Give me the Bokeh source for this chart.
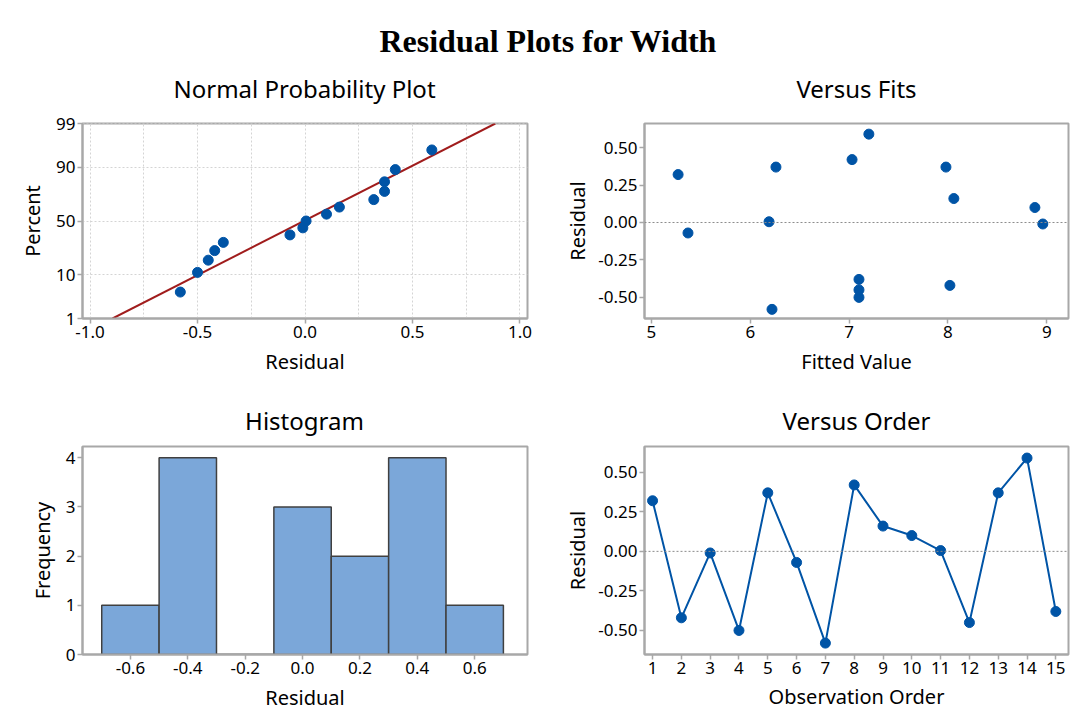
from statistics import NormalDist
import numpy as np
from bokeh.plotting import figure
from bokeh.layouts import column, row
from bokeh.models import Range1d, FixedTicker, PrintfTickFormatter, Span
from bokeh.core.properties import value
from bokeh.embed import file_html
from bokeh.resources import INLINE

# ---------------- data ----------------
order = list(range(1, 16))
residuals = [0.32, -0.42, -0.01, -0.50, 0.37, -0.07, -0.58, 0.42, 0.16, 0.10,
             0.005, -0.45, 0.37, 0.59, -0.38]
fitted = [5.27, 8.02, 8.96, 7.10, 6.26, 5.37, 6.22, 7.03, 8.06, 8.88,
          6.19, 7.10, 7.98, 7.20, 7.10]
npp_percent = [4.5, 11.0, 17.5, 24.0, 30.5, 37.0, 43.5, 50.0, 56.5, 63.0,
               69.5, 76.0, 82.5, 89.0, 95.5]
npp_ticks = [1, 10, 50, 90, 99]
hist_left = [-0.7, -0.5, -0.3, -0.1, 0.1, 0.3, 0.5]
hist_right = [-0.5, -0.3, -0.1, 0.1, 0.3, 0.5, 0.7]
hist_counts = [1, 4, 0, 3, 2, 4, 1]

main_title = "Residual Plots for Width"
top_titles = ["Normal Probability Plot", "Versus Fits"]
bottom_titles = ["Histogram", "Versus Order"]

BLUE = "#0054a6"
BAR = "#7ba7d9"
RED = "#a01c1c"
FRAME = "#a8a8a8"
SANS = "Noto Sans"
nd = NormalDist()


def strip(height):
    s = figure(width=1077, height=height, x_range=Range1d(0, 1077), y_range=Range1d(0, height),
               output_backend="svg", toolbar_location=None, min_border=0)
    s.axis.visible = False
    s.grid.visible = False
    s.outline_line_color = None
    return s


def style(p):
    p.outline_line_color = FRAME
    p.outline_line_width = 2
    p.background_fill_color = "white"
    p.border_fill_color = "white"
    for ax in (p.xaxis[0], p.yaxis[0]):
        ax.axis_line_color = FRAME
        ax.axis_line_width = 2
        ax.major_tick_line_color = FRAME
        ax.major_tick_line_width = 1.5
        ax.major_tick_out = 5
        ax.major_tick_in = 0
        ax.minor_tick_line_color = None
        ax.major_label_text_font = SANS
        ax.major_label_text_font_size = "17px"
        ax.major_label_text_color = "black"
        ax.major_label_standoff = 2
        ax.axis_label_text_font = SANS
        ax.axis_label_text_font_size = "20px"
        ax.axis_label_text_font_style = "normal"
        ax.axis_label_text_color = "black"


# ---------------- title strip (main title + top subplot titles) ----------------
pt = strip(110)
pt.text(x=[548], y=[70], text=[main_title],
        text_font=value("Liberation Serif"), text_font_style="bold",
        text_font_size="32px", text_align="center", text_baseline="middle",
        text_color="black")
pt.text(x=[304, 856], y=[22, 22], text=top_titles,
        text_font=value(SANS), text_font_size="24px", text_align="center",
        text_baseline="middle", text_color="black")

pb = strip(50)
pb.text(x=[304, 856], y=[20, 20], text=bottom_titles,
        text_font=value(SANS), text_font_size="24px", text_align="center",
        text_baseline="middle", text_color="black")

# ---------------- normal probability plot ----------------
z_lo = nd.inv_cdf(0.01)
z_hi = nd.inv_cdf(0.99)
p1 = figure(width=540, height=280,
            x_range=Range1d(-1.035, 1.035), y_range=Range1d(z_lo - 1e-9, z_hi + 1e-9),
            output_backend="svg", toolbar_location=None,
            min_border_left=82, min_border_right=13, min_border_top=12, min_border_bottom=70)
style(p1)
sorted_res = sorted(residuals)
p1_y = [nd.inv_cdf(v / 100.0) for v in npp_percent]
mu = float(np.mean(residuals))
sd = float(np.std(residuals, ddof=1))
p1.line(x=[mu + sd * z_lo, mu + sd * z_hi], y=[z_lo, z_hi], line_color=RED, line_width=2)
p1.scatter(x=sorted_res, y=p1_y, size=10, fill_color=BLUE, line_color=BLUE)
ytick_pos = [nd.inv_cdf(t / 100.0) for t in npp_ticks]
p1.yaxis.ticker = FixedTicker(ticks=ytick_pos)
p1.yaxis.major_label_overrides = {pos: str(t) for pos, t in zip(ytick_pos, npp_ticks)}
p1.xaxis.ticker = FixedTicker(ticks=[-1.0, -0.5, 0.0, 0.5, 1.0])
p1.xaxis.formatter = PrintfTickFormatter(format="%.1f")
p1.xgrid.ticker = FixedTicker(ticks=[-1.0, -0.75, -0.5, -0.25, 0.0, 0.25, 0.5, 0.75, 1.0])
p1.ygrid.ticker = FixedTicker(ticks=ytick_pos)
for g in (p1.xgrid[0], p1.ygrid[0]):
    g.grid_line_color = "#d4d4d4"
    g.grid_line_dash = "2 2"
    g.grid_line_width = 1
p1.xaxis.axis_label = "Residual"
p1.yaxis.axis_label = "Percent"
p1.xaxis.axis_label_standoff = 7
p1.yaxis.axis_label_standoff = 7

# ---------------- versus fits ----------------
p2 = figure(width=537, height=280,
            x_range=Range1d(4.93, 9.22), y_range=Range1d(-0.641, 0.661),
            output_backend="svg", toolbar_location=None,
            min_border_left=104, min_border_right=9, min_border_top=13, min_border_bottom=72)
style(p2)
p2.grid.visible = False
p2.add_layout(Span(location=0, dimension="width", line_color="#8c8c8c",
                   line_dash="2 2", line_width=1))
p2.scatter(x=fitted, y=residuals, size=10, fill_color=BLUE, line_color=BLUE)
p2.xaxis.ticker = FixedTicker(ticks=[5, 6, 7, 8, 9])
p2.yaxis.ticker = FixedTicker(ticks=[-0.5, -0.25, 0.0, 0.25, 0.5])
p2.yaxis.formatter = PrintfTickFormatter(format="%.2f")
p2.xaxis.axis_label = "Fitted Value"
p2.yaxis.axis_label = "Residual"
p2.xaxis.axis_label_standoff = 7
p2.yaxis.axis_label_standoff = 4

# ---------------- histogram ----------------
p3 = figure(width=540, height=277,
            x_range=Range1d(-0.767, 0.784), y_range=Range1d(0, 4.23),
            output_backend="svg", toolbar_location=None,
            min_border_left=82, min_border_right=13, min_border_top=6, min_border_bottom=63)
style(p3)
p3.grid.visible = False
p3.quad(left=hist_left, right=hist_right, bottom=0, top=hist_counts,
        fill_color=BAR, line_color="#404040", line_width=1.5)
p3.xaxis.ticker = FixedTicker(ticks=[-0.6, -0.4, -0.2, 0.0, 0.2, 0.4, 0.6])
p3.xaxis.formatter = PrintfTickFormatter(format="%.1f")
p3.yaxis.ticker = FixedTicker(ticks=[0, 1, 2, 3, 4])
p3.xaxis.axis_label = "Residual"
p3.yaxis.axis_label = "Frequency"
p3.xaxis.axis_label_standoff = 7
p3.yaxis.axis_label_standoff = 7

# ---------------- versus order ----------------
p4 = figure(width=537, height=277,
            x_range=Range1d(0.72, 15.44), y_range=Range1d(-0.652, 0.663),
            output_backend="svg", toolbar_location=None,
            min_border_left=104, min_border_right=9, min_border_top=6, min_border_bottom=63)
style(p4)
p4.grid.visible = False
p4.add_layout(Span(location=0, dimension="width", line_color="#8c8c8c",
                   line_dash="2 2", line_width=1))
p4.line(x=order, y=residuals, line_color=BLUE, line_width=2)
p4.scatter(x=order, y=residuals, size=10, fill_color=BLUE, line_color=BLUE)
p4.xaxis.ticker = FixedTicker(ticks=order)
p4.yaxis.ticker = FixedTicker(ticks=[-0.5, -0.25, 0.0, 0.25, 0.5])
p4.yaxis.formatter = PrintfTickFormatter(format="%.2f")
p4.xaxis.axis_label = "Observation Order"
p4.yaxis.axis_label = "Residual"
p4.xaxis.axis_label_standoff = 6
p4.yaxis.axis_label_standoff = 4

layout = column(pt, row(p1, p2), pb, row(p3, p4))
open("out.html", "w").write(file_html(layout, INLINE))
